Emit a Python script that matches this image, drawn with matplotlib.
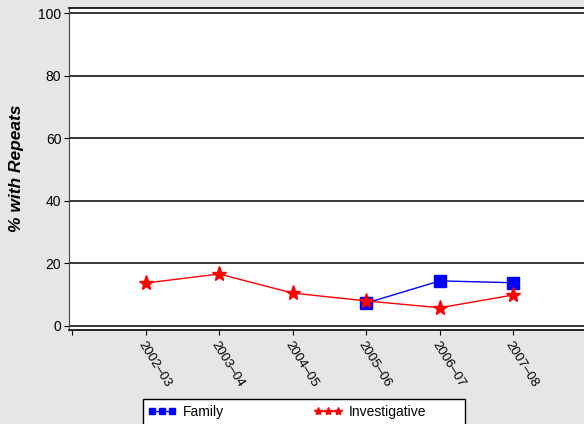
import matplotlib
matplotlib.use("Agg")
import matplotlib.pyplot as plt
from matplotlib.lines import Line2D
from matplotlib.patches import Rectangle

plt.rcParams['font.family'] = ['Liberation Sans', 'DejaVu Sans']

years = ["2002–03", "2003–04", "2004–05", "2005–06", "2006–07", "2007–08"]
family_x = [3, 4, 5]
family_vals = [7.3, 14.4, 13.8]
invest_vals = [13.7, 16.6, 10.5, 8.0, 5.8, 9.9]
yticks = [0, 20, 40, 60, 80, 100]

fig = plt.figure(figsize=(5.84, 4.24), dpi=100, facecolor="#e6e6e6")
ax = fig.add_axes([69/584, 94/424, 518/584, 322/424])
ax.set_facecolor("white")

for y in yticks:
    ax.axhline(y, color="black", lw=1.1, zorder=1)

ax.plot(family_x, family_vals, color="blue", lw=1, marker="s", markersize=9,
        markerfacecolor="blue", markeredgecolor="blue", zorder=3)
ax.plot(range(len(years)), invest_vals, color="red", lw=1, marker="*", markersize=11,
        markerfacecolor="red", markeredgecolor="red", zorder=4)

ax.set_xlim(-1.04, 6.0)
ax.set_ylim(-1.3, 101.6)
ax.set_yticks(yticks)
ax.set_yticklabels([str(v) for v in yticks], fontsize=10)
ax.set_xticks(list(range(-1, len(years))))
ax.set_xticklabels([""] + years, fontsize=9.5, rotation=-58, ha="left", va="top",
                   rotation_mode="anchor")
ax.tick_params(axis="x", length=3.5, direction="out", pad=3)
ax.tick_params(axis="y", length=3.5, direction="out", pad=2)

for s in ["top", "bottom"]:
    ax.spines[s].set_color("black")
    ax.spines[s].set_linewidth(1.2)
ax.spines["left"].set_color("#444444")
ax.spines["right"].set_visible(False)

fig.text(17/584, 1 - 168/424, "% with Repeats", rotation=90, fontsize=12.5,
         fontweight="bold", fontstyle="italic", ha="center", va="center")

# legend box (extends past the bottom edge as in the reference)
fig.patches.append(Rectangle((143/584, -10/424), (465 - 143)/584, (35)/424,
                             transform=fig.transFigure, facecolor="white",
                             edgecolor="black", lw=1, zorder=5))
handles = [
    Line2D([], [], color="blue", lw=1, marker="s", markersize=4.5),
    Line2D([], [], color="red", lw=1, marker="*", markersize=6),
]
leg = fig.legend(handles, ["Family", "Investigative"], loc="center left",
                 bbox_to_anchor=(148/584, 1 - 412/424), ncol=2, numpoints=3,
                 handlelength=2.0, columnspacing=6.5, fontsize=10,
                 frameon=False, borderpad=0, handletextpad=0.5,
                 borderaxespad=0)
leg.set_zorder(6)

fig.savefig("out.png", dpi=100, facecolor=fig.get_facecolor())
